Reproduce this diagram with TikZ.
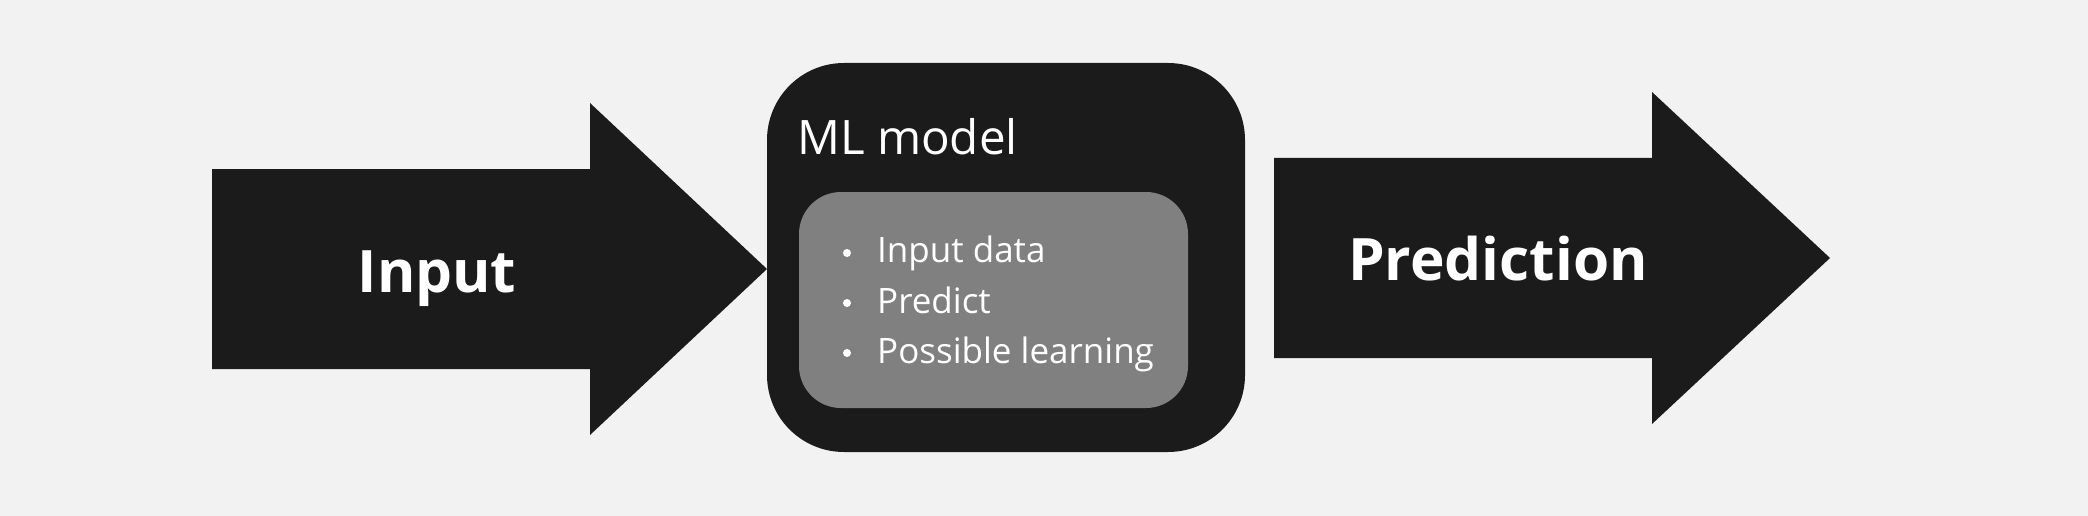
\documentclass[tikz,border=0pt]{standalone}
\usepackage{fontspec}
\setmainfont{Open Sans}
\definecolor{bgc}{HTML}{F2F2F2}
\definecolor{darkc}{HTML}{1B1B1B}
\definecolor{grayc}{HTML}{808080}
\begin{document}
\begin{tikzpicture}[x=1pt,y=-1pt,
  darkshape/.style={fill=darkc},
  boldlabel/.style={anchor=base, inner sep=0pt, text=white, font=\bfseries\fontsize{58.5}{70}\selectfont},
  titlelabel/.style={anchor=base west, inner sep=0pt, text=white, font=\fontsize{47.5}{57}\selectfont},
  itemlabel/.style={anchor=base west, inner sep=0pt, text=white, font=\fontsize{35}{42}\selectfont},
  bulletdot/.style={fill=white}]
\useasboundingbox (0,0) rectangle (2088,516);
\fill[bgc] (0,0) rectangle (2088,516);
% Input arrow
\fill[darkshape] (212,169) -- (590,169) -- (590,103) -- (767,269) -- (590,435) -- (590,369) -- (212,369) -- cycle;
% Prediction arrow
\fill[darkshape] (1274,158) -- (1652,158) -- (1652,92) -- (1830,258) -- (1652,424) -- (1652,358) -- (1274,358) -- cycle;
% ML model box
\fill[darkshape, rounded corners=77pt] (767,63) rectangle (1245,452);
\fill[grayc, rounded corners=42pt] (799,192) rectangle (1188,408);
% texts
\node[boldlabel] (input) at (437,292) {Input};
\node[boldlabel] (pred) at (1498,280) {Prediction};
\node[titlelabel] (ml) at (797,154) {ML model};
\fill[bulletdot] (847,253) circle (4);
\fill[bulletdot] (847,303) circle (4);
\fill[bulletdot] (847,353) circle (4);
\node[itemlabel] (i1) at (877,262) {Input data};
\node[itemlabel] (i2) at (877,313) {Predict};
\node[itemlabel] (i3) at (877,363) {Possible learning};
\end{tikzpicture}
\end{document}
